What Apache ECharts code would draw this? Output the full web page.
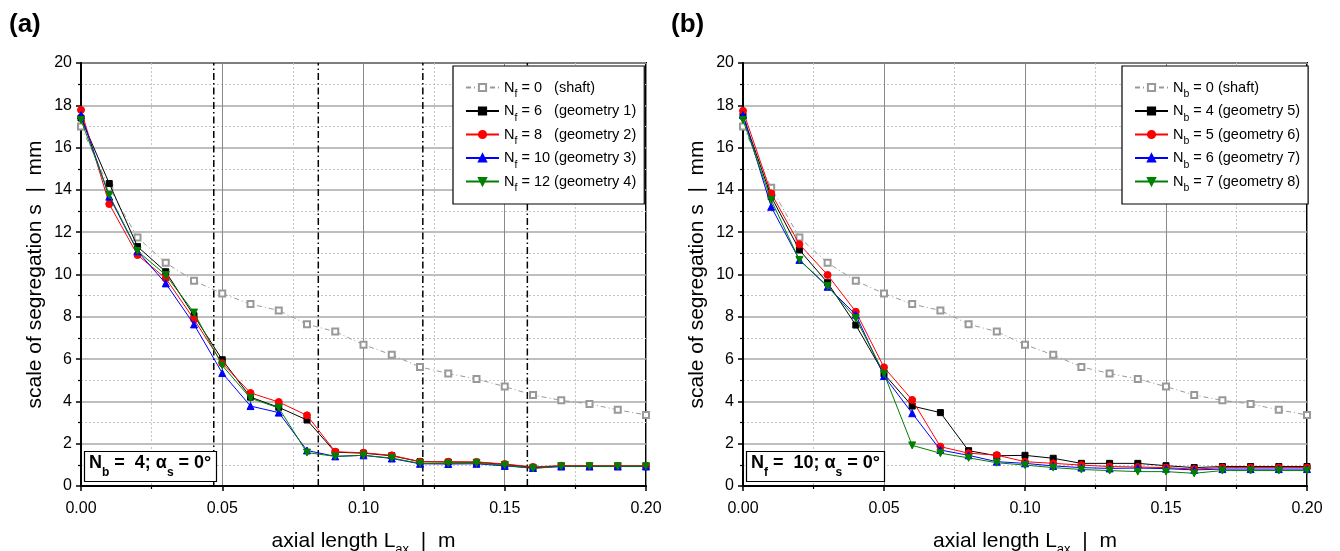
<!DOCTYPE html>
<html><head><meta charset="utf-8">
<script src="https://cdn.jsdelivr.net/npm/echarts@6/dist/echarts.min.js"></script>
<style>html,body{margin:0;padding:0;background:#fff}#c{width:1340px;height:551px}</style>
</head><body><div id="c"></div>
<script>
// ---------- data ----------
const xs = [0.00,0.01,0.02,0.03,0.04,0.05,0.06,0.07,0.08,0.09,0.10,0.11,0.12,0.13,0.14,0.15,0.16,0.17,0.18,0.19,0.20];
const shaft = [17.0,14.1,11.75,10.55,9.7,9.1,8.6,8.3,7.65,7.3,6.68,6.2,5.63,5.32,5.06,4.7,4.3,4.05,3.88,3.6,3.36];
// panel (a): N_b = 4, varying N_f
const geo1 = [17.4,14.3,11.32,10.13,8.05,5.97,4.2,3.72,3.12,1.6,1.55,1.43,1.15,1.13,1.12,1.02,0.88,0.95,0.95,0.95,0.95];
const geo2 = [17.78,13.33,10.92,9.82,7.88,5.8,4.4,3.97,3.34,1.62,1.57,1.45,1.15,1.15,1.14,1.04,0.9,0.96,0.95,0.95,0.95];
const geo3 = [17.54,13.68,11.1,9.58,7.64,5.34,3.78,3.47,1.68,1.4,1.45,1.3,1.05,1.04,1.05,0.95,0.85,0.92,0.92,0.92,0.92];
const geo4 = [17.3,13.76,11.11,9.98,8.2,5.7,4.15,3.69,1.58,1.4,1.45,1.32,1.07,1.06,1.08,0.98,0.83,0.93,0.93,0.93,0.93];
// panel (b): N_f = 10, varying N_b
const geo5 = [17.5,13.68,11.16,9.61,7.61,5.3,3.78,3.47,1.67,1.43,1.45,1.31,1.07,1.07,1.07,0.96,0.87,0.92,0.92,0.92,0.92];
const geo6 = [17.74,13.84,11.43,9.98,8.24,5.61,4.07,1.86,1.55,1.46,1.15,1.07,0.99,0.92,0.9,0.87,0.8,0.87,0.87,0.87,0.87];
const geo7 = [17.54,13.2,10.69,9.42,8.1,5.2,3.44,1.7,1.45,1.15,1.07,0.95,0.87,0.83,0.85,0.82,0.76,0.8,0.8,0.8,0.8];
const geo8 = [17.3,13.52,10.69,9.45,7.93,5.31,1.92,1.55,1.33,1.1,0.99,0.87,0.78,0.73,0.68,0.68,0.6,0.73,0.73,0.73,0.73];
const dividersA = [0.047,0.084,0.121,0.158];
const namesA = ['N|f| = 0   (shaft)','N|f| = 6   (geometry 1)','N|f| = 8   (geometry 2)','N|f| = 10 (geometry 3)','N|f| = 12 (geometry 4)'];
const namesB = ['N|b| = 0 (shaft)','N|b| = 4 (geometry 5)','N|b| = 5 (geometry 6)','N|b| = 6 (geometry 7)','N|b| = 7 (geometry 8)'];
const noteA = ['N','b',' =  4; α','s',' = 0°'];
const noteB = ['N','f',' =  10; α','s',' = 0°'];
const xName = ['axial length L','ax','  |  m'];
const yName = 'scale of segregation s  |  mm';

// ---------- chart ----------
const FF = '"Liberation Sans", Arial, sans-serif';
const chart = echarts.init(document.getElementById('c'), null, {renderer:'canvas'});
const pair = arr => xs.map((x,i)=>[x,arr[i]]);
const styles = [
  {color:'#999', symbol:'emptyRect', size:6, type:[5,3,1,3]},
  {color:'#000', symbol:'rect', size:6},
  {color:'#ff0000', symbol:'circle', size:7},
  {color:'#0000ff', symbol:'triangle', size:7},
  {color:'#008000', symbol:'triangle', size:7, rotate:180}
];
function mk(name, arr, k, gi){
  const s = styles[k];
  return {
    type:'line', name, data:pair(arr), xAxisIndex:gi, yAxisIndex:gi,
    symbol:s.symbol, symbolSize:s.size, symbolRotate:s.rotate||0,
    itemStyle:{color:s.color, borderColor:s.color, borderWidth:1},
    lineStyle:{color:s.color, width:1, type:s.type||'solid'},
    emphasis:{disabled:true}, z:3+k
  };
}
function divider(v){
  return {
    type:'line', name:'div'+v, data:[[v,0],[v,20]], xAxisIndex:0, yAxisIndex:0,
    symbol:'none', silent:true, z:2, emphasis:{disabled:true},
    lineStyle:{color:'#000', width:1.5, type:[7,3,1.5,3]}
  };
}
const lf = n => { const p=n.split('|'); return '{m|'+p[0]+'}{s|'+p[1]+'}{m|'+p[2]+'}'; };
function legend(names, left){
  return {
    data:names, orient:'vertical', left:left, top:66, padding:[14,8,10,12],
    itemWidth:33, itemHeight:9, itemGap:3.5, backgroundColor:'#fff',
    borderColor:'#000', borderWidth:1.2, selectedMode:false,
    formatter:lf,
    textStyle:{fontFamily:FF, fontSize:14.5, color:'#000',
      rich:{m:{fontFamily:FF, fontSize:14.5, color:'#000', verticalAlign:'middle'},
            s:{fontFamily:FF, fontSize:10.5, color:'#000', verticalAlign:'middle', padding:[14,0,0,0]}}}
  };
}
function note(p, left){
  return {
    text:'{m|'+p[0]+'}{s|'+p[1]+'}{m|'+p[2]+'}{s|'+p[3]+'}{m|'+p[4]+'}',
    left:left, top:451, padding:[3,5,3,5], borderColor:'#000', borderWidth:1.2, backgroundColor:'#fff',
    textStyle:{rich:{
      m:{fontFamily:FF, fontSize:18, fontWeight:'bold', color:'#000', padding:[0,0,7,0], verticalAlign:'middle'},
      s:{fontFamily:FF, fontSize:12, fontWeight:'bold', color:'#000', padding:[13,0,0,0], verticalAlign:'middle'}}}
  };
}
function xAx(gi){
  return {
    type:'value', gridIndex:gi, min:0, max:0.2, interval:0.05,
    name:'{m|'+xName[0]+'}{s|'+xName[1]+'}{m|'+xName[2]+'}', nameLocation:'middle', nameGap:45,
    nameTextStyle:{rich:{m:{fontFamily:FF,fontSize:21,color:'#000',padding:[0,0,4,0],verticalAlign:'middle'},
                         s:{fontFamily:FF,fontSize:13,color:'#000',padding:[12,0,0,0],verticalAlign:'middle'}}},
    axisLine:{show:true, onZero:false, lineStyle:{color:'#000', width:2}},
    axisTick:{show:true, length:5, lineStyle:{color:'#000', width:1.5}},
    minorTick:{show:true, splitNumber:2, length:3, lineStyle:{color:'#000', width:1.2}},
    axisLabel:{margin:15, fontFamily:FF, fontSize:16, color:'#000', formatter:v=>v.toFixed(2), showMinLabel:true, showMaxLabel:true},
    splitLine:{show:true, lineStyle:{color:'#8a8a8a', width:1}},
    minorSplitLine:{show:true, lineStyle:{color:'#c4c4c4', width:1, type:[2,2]}}
  };
}
function yAx(gi){
  return {
    type:'value', gridIndex:gi, min:0, max:20, interval:2,
    name:yName, nameLocation:'middle', nameGap:35, nameRotate:90,
    nameTextStyle:{fontFamily:FF, fontSize:21, color:'#000'},
    axisLine:{show:true, onZero:false, lineStyle:{color:'#000', width:2}},
    axisTick:{show:true, length:5, lineStyle:{color:'#000', width:1.5}},
    minorTick:{show:true, splitNumber:2, length:3, lineStyle:{color:'#000', width:1.2}},
    axisLabel:{margin:9, fontFamily:FF, fontSize:16, color:'#000'},
    splitLine:{show:true, lineStyle:{color:'#a8a8a8', width:1.5}},
    minorSplitLine:{show:true, lineStyle:{color:'#c4c4c4', width:1, type:[2,2]}}
  };
}
const option = {
  animation:false,
  backgroundColor:'#fff',
  title:[
    {text:'(a)', left:9, top:12, padding:0, textStyle:{fontFamily:FF, fontSize:26, fontWeight:'bold', color:'#000'}},
    {text:'(b)', left:671, top:12, padding:0, textStyle:{fontFamily:FF, fontSize:26, fontWeight:'bold', color:'#000'}},
    note(noteA, 84), note(noteB, 746)
  ],
  grid:[
    {left:81, right:694, top:63, bottom:65, show:true, borderColor:'#000', borderWidth:2, backgroundColor:'transparent', outerBoundsMode:'none', containLabel:false},
    {left:743, right:33, top:63, bottom:65, show:true, borderColor:'#000', borderWidth:2, backgroundColor:'transparent', outerBoundsMode:'none', containLabel:false}
  ],
  xAxis:[xAx(0), xAx(1)],
  yAxis:[yAx(0), yAx(1)],
  legend:[legend(namesA, 453), legend(namesB, 1122)],
  series:[
    ...dividersA.map(divider),
    mk(namesA[0], shaft, 0, 0),
    mk(namesA[1], geo1, 1, 0),
    mk(namesA[2], geo2, 2, 0),
    mk(namesA[3], geo3, 3, 0),
    mk(namesA[4], geo4, 4, 0),
    mk(namesB[0], shaft, 0, 1),
    mk(namesB[1], geo5, 1, 1),
    mk(namesB[2], geo6, 2, 1),
    mk(namesB[3], geo7, 3, 1),
    mk(namesB[4], geo8, 4, 1)
  ]
};
chart.setOption(option);
</script></body></html>
